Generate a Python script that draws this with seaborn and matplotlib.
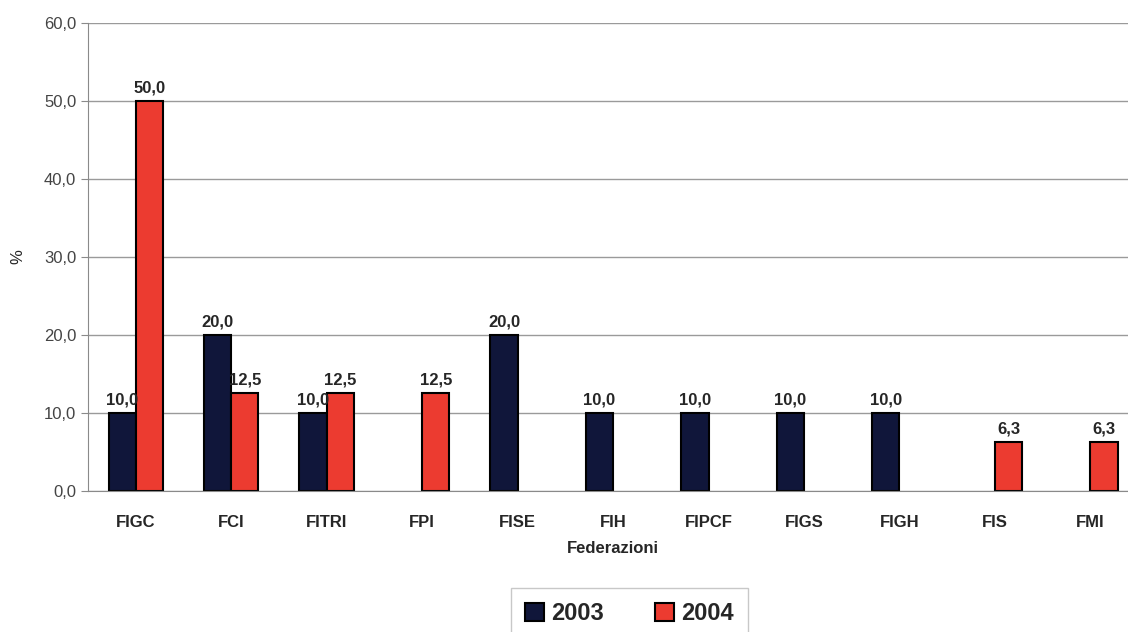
import numpy as np
import pandas as pd
import matplotlib
matplotlib.use("Agg")
import matplotlib.pyplot as plt
import seaborn as sns

# ---- data ----
federazioni = ["FIGC", "FCI", "FITRI", "FPI", "FISE", "FIH", "FIPCF", "FIGS", "FIGH", "FIS", "FMI"]
val_2003 = [10.0, 20.0, 10.0, np.nan, 20.0, 10.0, 10.0, 10.0, 10.0, np.nan, np.nan]
val_2004 = [50.0, 12.5, 12.5, 12.5, np.nan, np.nan, np.nan, np.nan, np.nan, 6.3, 6.3]
anni = ["2003", "2004"]
colori = ["#10163a", "#ec3b30"]

df = pd.concat([
    pd.DataFrame({"fed": federazioni, "anno": anni[0], "pct": val_2003}),
    pd.DataFrame({"fed": federazioni, "anno": anni[1], "pct": val_2004}),
], ignore_index=True)

sns.set_style("white")
plt.rcParams["font.family"] = ["Liberation Sans", "DejaVu Sans"]

fig = plt.figure(figsize=(11.28, 6.32), dpi=100)
ax = fig.add_axes([0.078, 0.223, 0.931, 0.741])

sns.barplot(data=df, x="fed", y="pct", hue="anno", order=federazioni, hue_order=anni,
            palette=colori, width=0.57, edgecolor="black", linewidth=1.5,
            saturation=1, ax=ax, errorbar=None)

# value labels, comma decimal
for cont in ax.containers:
    labs = ["" if np.isnan(h) else f"{h:.1f}".replace(".", ",") for h in cont.datavalues]
    ax.bar_label(cont, labels=labs, padding=4, fontsize=12, fontweight="bold")

ax.set_xlim(-0.5, len(federazioni) - 0.5)
ax.set_ylim(0, 60)
ax.set_yticks(range(0, 61, 10))
ax.set_yticklabels([f"{v},0" for v in range(0, 61, 10)], fontsize=12, color="#444444")
ax.yaxis.grid(True, color="#9a9a9a", linewidth=1)
ax.set_axisbelow(True)

ax.set_xticks(range(len(federazioni)))
ax.set_xticklabels(federazioni, fontsize=12, fontweight="bold")
ax.set_xticks(np.arange(0.5, len(federazioni) - 0.5, 1), minor=True)
ax.tick_params(axis="x", which="major", length=0, pad=17)
ax.tick_params(axis="x", which="minor", length=5, color="#8a8a8a", direction="out")
ax.tick_params(axis="y", length=5, color="#8a8a8a", direction="out", left=True)

for s in ["top", "right"]:
    ax.spines[s].set_visible(False)
for s in ["left", "bottom"]:
    ax.spines[s].set_color("#8a8a8a")

ax.set_xlabel("Federazioni", fontsize=12, fontweight="bold", labelpad=8)
ax.set_ylabel("%", fontsize=12)
ax.yaxis.set_label_coords(-0.06, 0.5)

handles, labels = ax.get_legend_handles_labels()
ax.get_legend().remove()
fig.legend(handles, labels, loc="lower center", bbox_to_anchor=(0.558, -0.03), ncol=2,
           frameon=True, fancybox=False, edgecolor="#bbbbbb",
           prop={"size": 17, "weight": "bold"}, handlelength=0.8, handleheight=0.8,
           columnspacing=2.2, handletextpad=0.3, borderpad=0.6)

fig.savefig("out.png", dpi=100)
